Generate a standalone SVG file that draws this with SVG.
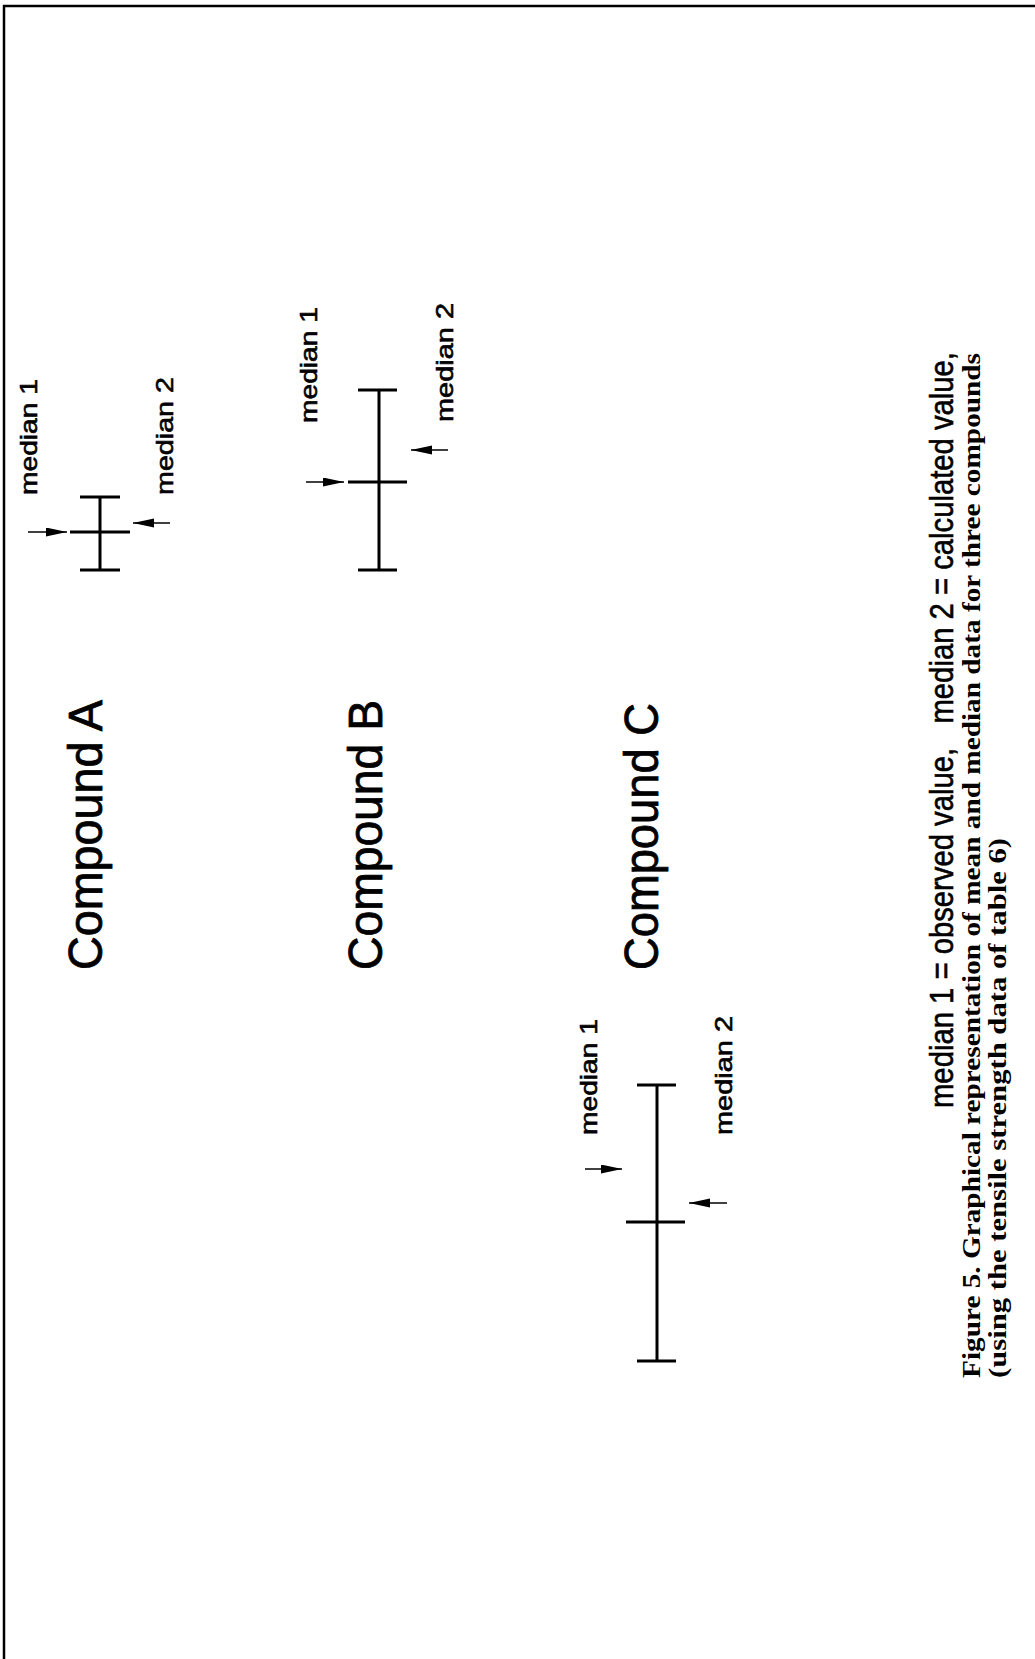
<svg xmlns="http://www.w3.org/2000/svg" width="1035" height="1659" viewBox="0 0 1035 1659">
<style>
.bar{stroke:#000;stroke-width:3;fill:none}
.arr{stroke:#000;stroke-width:1.5;fill:none}
.cmp{font-family:"Liberation Sans",Arial,sans-serif;font-size:49px;fill:#000;stroke:#000;stroke-width:0.8}
.med{font-family:"Liberation Sans",Arial,sans-serif;font-size:24px;fill:#000;stroke:#000;stroke-width:0.6}
.cap1{font-family:"Liberation Sans",Arial,sans-serif;font-size:33px;fill:#000;stroke:#000;stroke-width:0.6}
.cap2{font-family:"Liberation Serif","Times New Roman",serif;font-size:25px;font-weight:bold;fill:#000}
</style>
<defs>
<marker id="ah" markerUnits="userSpaceOnUse" markerWidth="24" markerHeight="10" refX="21" refY="4.5" orient="auto">
<path d="M0,0 L21,4.5 L0,9 Z" fill="#000"/>
</marker>
</defs>
<rect width="1035" height="1659" fill="#fff"/>
<path d="M4,1659 V6 H1035" stroke="#000" stroke-width="2.5" fill="none"/>

<g id="compoundA">
<text class="cmp" transform="translate(102,970) rotate(-90)" textLength="270" lengthAdjust="spacingAndGlyphs">Compound A</text>
<path class="bar" d="M100,497 V570 M80,497 H120 M80,570 H120 M70,532 H130"/>
<text class="med" transform="translate(37,495) rotate(-90)" textLength="116" lengthAdjust="spacingAndGlyphs">median 1</text>
<text class="med" transform="translate(173,495) rotate(-90)" textLength="118" lengthAdjust="spacingAndGlyphs">median 2</text>
</g>

<g id="compoundB">
<text class="cmp" transform="translate(382,970) rotate(-90)" textLength="270" lengthAdjust="spacingAndGlyphs">Compound B</text>
<path class="bar" d="M379,390 V570 M358,390 H397 M358,570 H397 M348,482 H407"/>
<text class="med" transform="translate(317,423) rotate(-90)" textLength="116" lengthAdjust="spacingAndGlyphs">median 1</text>
<text class="med" transform="translate(453,422) rotate(-90)" textLength="119" lengthAdjust="spacingAndGlyphs">median 2</text>
</g>

<g id="compoundC">
<text class="cmp" transform="translate(658,970) rotate(-90)" textLength="267" lengthAdjust="spacingAndGlyphs">Compound C</text>
<path class="bar" d="M657,1085 V1361 M637,1085 H676 M637,1361 H676 M626,1222 H685"/>
<text class="med" transform="translate(597,1135) rotate(-90)" textLength="116" lengthAdjust="spacingAndGlyphs">median 1</text>
<text class="med" transform="translate(732,1135) rotate(-90)" textLength="119" lengthAdjust="spacingAndGlyphs">median 2</text>
</g>

<g id="connectors">
<line class="arr" x1="28" y1="532" x2="67" y2="532" marker-end="url(#ah)"/>
<line class="arr" x1="170" y1="523" x2="133" y2="523" marker-end="url(#ah)"/>
<line class="arr" x1="306" y1="482" x2="344" y2="482" marker-end="url(#ah)"/>
<line class="arr" x1="448" y1="450" x2="411" y2="450" marker-end="url(#ah)"/>
<line class="arr" x1="585" y1="1169" x2="622" y2="1169" marker-end="url(#ah)"/>
<line class="arr" x1="727" y1="1203" x2="689" y2="1203" marker-end="url(#ah)"/>
</g>

<g id="caption">
<text class="cap1" transform="translate(953,1108) rotate(-90)" textLength="756" lengthAdjust="spacingAndGlyphs" xml:space="preserve">median 1 = observed value,   median 2 = calculated value,</text>
<text class="cap2" transform="translate(980,1378) rotate(-90)" textLength="1025" lengthAdjust="spacingAndGlyphs">Figure 5. Graphical representation of mean and median data for three compounds</text>
<text class="cap2" transform="translate(1006,1378) rotate(-90)" textLength="540" lengthAdjust="spacingAndGlyphs">(using the tensile strength data of table 6)</text>
</g>
</svg>
